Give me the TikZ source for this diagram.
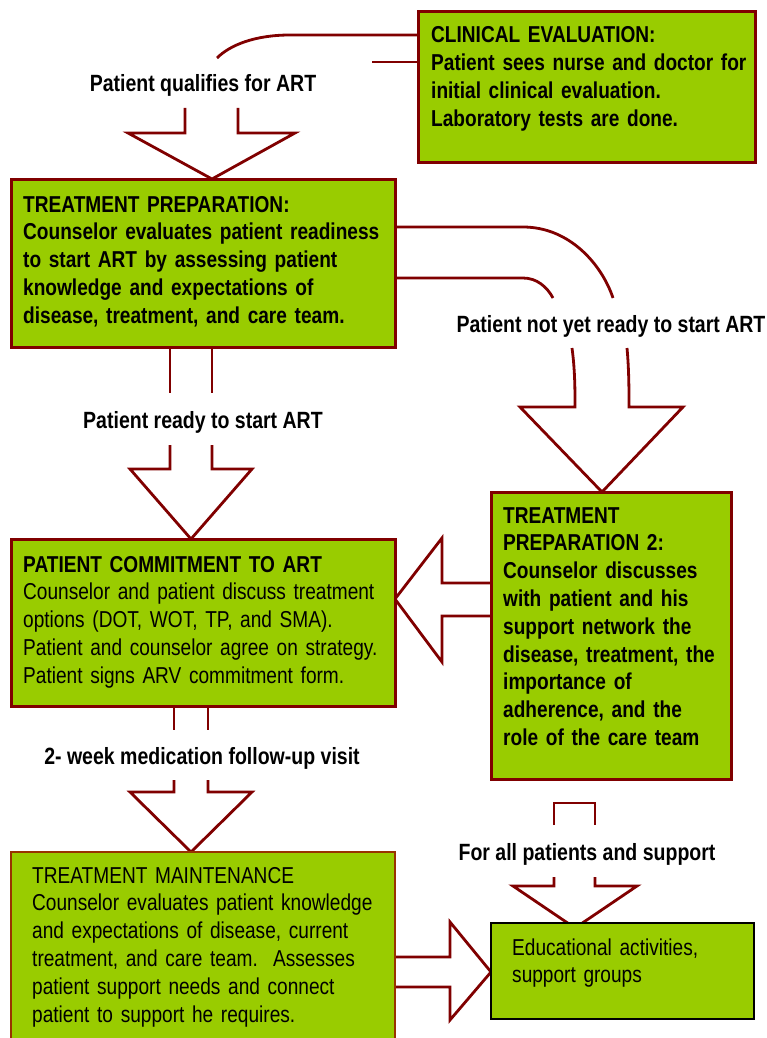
\documentclass[tikz,border=0pt]{standalone}
\usepackage{fontspec}
\setmainfont{Liberation Sans}[FakeStretch=0.83]
\usepackage{xcolor}
\usetikzlibrary{calc, positioning}

\definecolor{boxgreen}{HTML}{99CC00}
\definecolor{arrowred}{HTML}{800000}
\definecolor{tmborder}{HTML}{993300}

% taille du texte des boites et des etiquettes
\newcommand{\boxfont}{\fontsize{23}{27.8}\selectfont}
\newcommand{\labelfont}{\fontsize{23.5}{27.8}\selectfont\bfseries}

\begin{document}
\begin{tikzpicture}[x=1pt, y=-1pt,
    box/.style={draw=arrowred, line width=3pt, fill=boxgreen, anchor=north west,
                inner sep=0pt, outer sep=0pt},
    bigarrow/.style={draw=arrowred, line width=2.8pt, line join=miter},
    boxtext/.style={anchor=base west, inner sep=0pt, align=left, text width=#1,
                    font=\boxfont},
    boldtext/.style={boxtext=#1, font=\boxfont\bfseries},
    steplabel/.style={anchor=base, inner sep=0pt, font=\labelfont}]

    \useasboundingbox (0,0) rectangle (767,1038);

    % =================================================================
    % 1. CAC MUI TEN KHOI (ve truoc, cac hop nam de len dau mui)
    % =================================================================
    % --- Clinical evaluation -> treatment preparation ---
    \draw[bigarrow] (418,35) -- (290,35) .. controls (255,35) and (230,45) .. (217,58);
    \draw[bigarrow] (418,62) -- (372,62);
    \draw[bigarrow] (185,108) -- (185,133) -- (128,133) -- (212,179) -- (295,133) -- (238,133) -- (238,108);

    % --- Treatment preparation -> treatment preparation 2 (cong) ---
    \draw[bigarrow] (395,227) -- (523,227) .. controls (570,227) and (602,265) .. (613,298);
    \draw[bigarrow] (395,278) -- (523,278) .. controls (537,278) and (547,287) .. (553,298);
    \draw[bigarrow] (572,348) .. controls (575,370) and (575,390) .. (575,407) -- (520,407)
        -- (602,492) -- (683,407) -- (629,407) .. controls (629,390) and (629,370) .. (627,348);

    % --- Treatment preparation -> patient commitment ---
    \draw[bigarrow] (170,347) -- (170,393);
    \draw[bigarrow] (212,347) -- (212,393);
    \draw[bigarrow] (170,445) -- (170,469) -- (130,469) -- (191,539) -- (252,469) -- (212,469) -- (212,445);

    % --- Treatment preparation 2 -> patient commitment ---
    \draw[bigarrow] (491,583) -- (442,583) -- (442,538) -- (395,599) -- (442,662) -- (442,616) -- (491,616);

    % --- Patient commitment -> treatment maintenance ---
    \draw[bigarrow] (174,706) -- (174,730);
    \draw[bigarrow] (208,706) -- (208,730);
    \draw[bigarrow] (174,780) -- (174,792) -- (130,792) -- (191,852) -- (252,792) -- (208,792) -- (208,780);

    % --- Treatment maintenance -> educational activities ---
    \draw[bigarrow] (395,957) -- (450,957) -- (450,922) -- (491,972) -- (450,1020) -- (450,987) -- (395,987);

    % --- Treatment preparation 2 -> educational activities ---
    \draw[bigarrow] (554,825) -- (554,803) -- (595,803) -- (595,825);
    \draw[bigarrow] (554,877) -- (554,886) -- (513,886) -- (575,928) -- (637,886) -- (595,886) -- (595,877);

    % =================================================================
    % 2. CAC HOP (NEN XANH)
    % =================================================================
    \node[box, minimum width=337, minimum height=150] (clinical) at (418,12) {};
    \node[box, minimum width=384, minimum height=168] (prep) at (11,179) {};
    \node[box, minimum width=384, minimum height=167] (commit) at (11,539) {};
    \node[box, minimum width=240, minimum height=287] (prep2) at (491,492) {};
    \node[box, draw=tmborder, line width=2pt, minimum width=384, minimum height=192] (maint) at (11,852) {};
    \node[box, draw=black, line width=2pt, minimum width=263, minimum height=96] (edu) at (491,923) {};

    % =================================================================
    % 3. NOI DUNG CAC HOP
    % =================================================================
    \node[boldtext=400] (clinical text) at (431,43)
        {CLINICAL EVALUATION:\\Patient sees nurse and doctor for\\initial clinical evaluation.\\Laboratory tests are done.};
    \node[boldtext=400] (prep text) at (23,212)
        {TREATMENT PREPARATION:\\Counselor evaluates patient readiness\\to start ART by assessing patient\\knowledge and expectations of\\disease, treatment, and care team.};
    \node[boxtext=400] (commit text) at (23,572)
        {\textbf{PATIENT COMMITMENT TO ART}\\Counselor and patient discuss treatment\\options (DOT, WOT, TP, and SMA).\\Patient and counselor agree on strategy.\\Patient signs ARV commitment form.};
    \node[boldtext=400] (prep2 text) at (503,523)
        {TREATMENT\\PREPARATION 2:\\Counselor discusses\\with patient and his\\support network the\\disease, treatment, the\\importance of\\adherence, and the\\role of the care team};
    \node[boxtext=400] (maint text) at (32,883)
        {TREATMENT MAINTENANCE\\Counselor evaluates patient knowledge\\and expectations of disease, current\\treatment, and care team.\ \ Assesses\\patient support needs and connect\\patient to support he requires.};
    \node[boxtext=400] (edu text) at (512,955)
        {Educational activities,\\support groups};

    % =================================================================
    % 4. NHAN TREN CAC MUI TEN
    % =================================================================
    \node[steplabel] (qualifies) at (203,92) {Patient qualifies for ART};
    \node[steplabel] (notready) at (611,332) {Patient not yet ready to start ART};
    \node[steplabel] (ready) at (203,428) {Patient ready to start ART};
    \node[steplabel] (followup) at (202,764) {2- week medication follow-up visit};
    \node[steplabel] (support) at (587,860) {For all patients and support};

\end{tikzpicture}
\end{document}
